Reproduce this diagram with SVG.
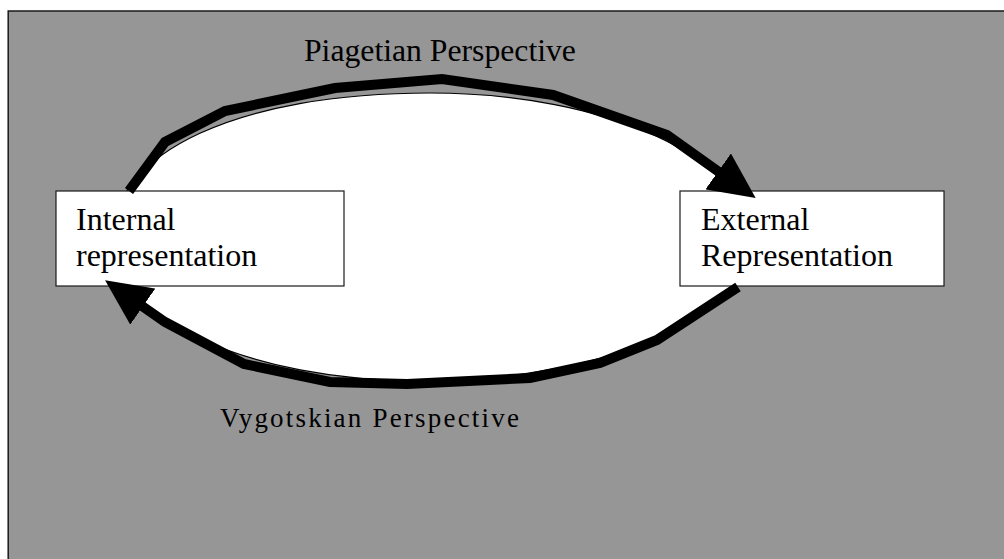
<svg xmlns="http://www.w3.org/2000/svg" width="1004" height="559" viewBox="0 0 1004 559">
  <style>
    .bg { fill: #969696; stroke: #1a1a1a; stroke-width: 1.5; }
    .oval { fill: #ffffff; stroke: #000000; stroke-width: 1.2; }
    .box { fill: #ffffff; stroke: #1a1a1a; stroke-width: 1.2; }
    .label { font-family: "Liberation Serif", "Times New Roman", serif; fill: #000000; }
    .nodeText { font-size: 32px; }
    .arrow { fill: none; stroke: #000000; stroke-width: 10; stroke-linejoin: miter; stroke-linecap: butt; }
  </style>
  <defs>
    <marker id="head" markerUnits="userSpaceOnUse" markerWidth="46" markerHeight="44" viewBox="0 0 46 44" refX="1" refY="22" orient="auto">
      <path d="M0,0 L46,22 L0,44 Z" fill="#000000"/>
    </marker>
  </defs>

  <rect class="bg" x="8.2" y="11" width="1010" height="560"/>
  <path class="oval" d="M430,93 C239,93 112,152 112,240 C112,318 250,381 420,381 C602,381 750,318 750,240 C750,159 607,93 430,93 Z"/>

  <g id="node-internal">
    <rect class="box" x="56" y="191" width="288" height="95"/>
    <text class="label nodeText" x="76" y="230">Internal</text>
    <text class="label nodeText" x="76" y="266">representation</text>
  </g>

  <g id="node-external">
    <rect class="box" x="680" y="191" width="264" height="95"/>
    <text class="label nodeText" x="701" y="230">External</text>
    <text class="label nodeText" x="701" y="266">Representation</text>
  </g>

  <g id="connectors">
    <polyline id="piagetian" class="arrow" marker-end="url(#head)" points="129,191 165,142 225,111 335,88 442,79 553,95 667,135 719,172"/>
    <polyline id="vygotskian" class="arrow" marker-end="url(#head)" points="738,287 657,340 600,363 530,378 407,384 330,382 244,364 165,322 142,306"/>
  </g>

  <g id="labels">
    <text class="label" x="304" y="61" font-size="31.7">Piagetian Perspective</text>
    <text class="label" x="220" y="427" font-size="27" letter-spacing="2.2">Vygotskian Perspective</text>
  </g>
</svg>
